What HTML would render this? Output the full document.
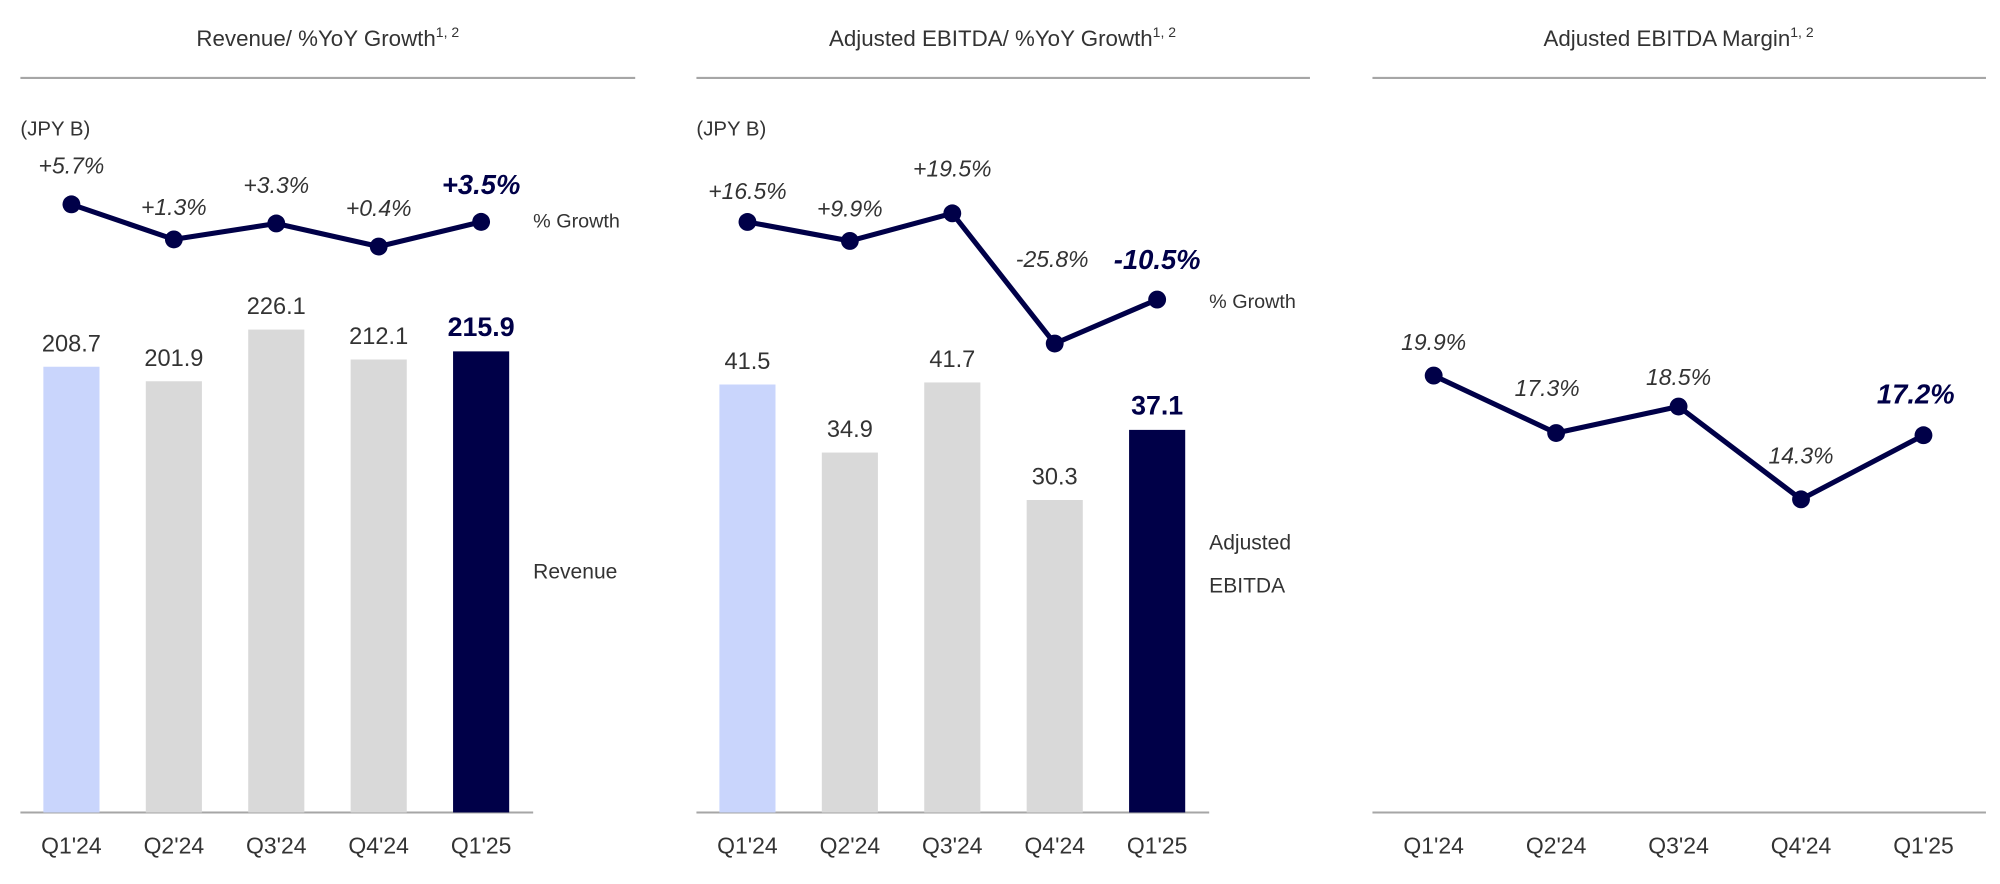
<!DOCTYPE html>
<html><head><meta charset="utf-8"><style>
html,body{margin:0;padding:0;background:#fff;}
svg{display:block;font-family:"Liberation Sans",Arial,sans-serif;}
</style></head><body>
<svg id="c" width="2000" height="884" viewBox="0 0 1568 692" preserveAspectRatio="none">
<g id="static" fill="#333">
<text x="257" y="36" font-size="17.5" text-anchor="middle">Revenue/ %YoY Growth<tspan font-size="11" dy="-7">1, 2</tspan></text>
<text x="786" y="36" font-size="17.5" text-anchor="middle">Adjusted EBITDA/ %YoY Growth<tspan font-size="11" dy="-7">1, 2</tspan></text>
<text x="1316" y="36" font-size="17.5" text-anchor="middle">Adjusted EBITDA Margin<tspan font-size="11" dy="-7">1, 2</tspan></text>
<line x1="16" x2="498" y1="61" y2="61" stroke="#a6a6a6" stroke-width="1.6"/>
<line x1="546" x2="1027" y1="61" y2="61" stroke="#a6a6a6" stroke-width="1.6"/>
<line x1="1076" x2="1557" y1="61" y2="61" stroke="#a6a6a6" stroke-width="1.6"/>
<text x="16" y="106" font-size="16">(JPY B)</text>
<text x="546" y="106" font-size="16">(JPY B)</text>
<text x="418" y="178" font-size="15.5">% Growth</text>
<text x="948" y="241" font-size="15.5">% Growth</text>
<text x="418" y="453" font-size="16.5">Revenue</text>
<text x="948" y="430" font-size="16.5">Adjusted</text>
<text x="948" y="464" font-size="16.5">EBITDA</text>
</g>
</svg>
<script>
const quarters=["Q1'24","Q2'24","Q3'24","Q4'24","Q1'25"];
const revenue=[208.7,201.9,226.1,212.1,215.9];
const revenueGrowth=[5.7,1.3,3.3,0.4,3.5];
const revenueGrowthLabels=["+5.7%","+1.3%","+3.3%","+0.4%","+3.5%"];
const ebitda=[41.5,34.9,41.7,30.3,37.1];
const ebitdaGrowth=[16.5,9.9,19.5,-25.8,-10.5];
const ebitdaGrowthLabels=["+16.5%","+9.9%","+19.5%","-25.8%","-10.5%"];
const margin=[19.9,17.3,18.5,14.3,17.2];
const marginLabels=["19.9%","17.3%","18.5%","14.3%","17.2%"];

const NS="http://www.w3.org/2000/svg";
const svg=document.getElementById('c');
const NAVY="#000048";
function mk(tag,attrs,parent){const e=document.createElementNS(NS,tag);for(const k in attrs)e.setAttribute(k,attrs[k]);(parent||svg).appendChild(e);return e;}
function bx(x0,i){return x0+i*80.3;}
const base=636;
function drawBars(prefix,x0,vals,pxPer){
  vals.forEach((v,i)=>{
    const h=v*pxPer, x=bx(x0,i);
    const last=i===vals.length-1;
    const r=mk('rect',{x:x-22,y:base-h,width:44,height:h,fill:i===0?'#c9d5fc':last?NAVY:'#d9d9d9'});
    
    
    const t=mk('text',{x:x,y:base-h-12,'text-anchor':'middle','font-size':last?21:18.5,'font-weight':last?'bold':'normal',fill:last?NAVY:'#333'});
    t.textContent=v.toFixed(1);
    
    
  });
}
function drawLine(prefix,xs,vals,labels,yFn,offs,dxs){
  const pts=vals.map((v,i)=>[xs[i],yFn(v)]);
  const p=mk('polyline',{points:pts.map(q=>q.join(',')).join(' '),fill:'none',stroke:NAVY,'stroke-width':4,'stroke-linejoin':'round'});
  
  
  pts.forEach((q,i)=>{
    const c=mk('circle',{cx:q[0],cy:q[1],r:7,fill:NAVY});
    
    
    const last=i===pts.length-1;
    const t=mk('text',{x:q[0]+(dxs?dxs[i]:0),y:q[1]-offs[i],'text-anchor':'middle','font-size':last?21.5:18,'font-style':'italic','font-weight':last?'bold':'normal',fill:last?NAVY:'#333'});
    t.textContent=labels[i];
    
    
  });
}
[[16,418],[546,948],[1076,1557]].forEach((a,k)=>{
  const l=mk('line',{x1:a[0],x2:a[1],y1:base,y2:base,stroke:'#a6a6a6','stroke-width':1.6});
  
  
});
const xs1=quarters.map((q,i)=>bx(56,i)), xs2=quarters.map((q,i)=>bx(586,i)), xs3=quarters.map((q,i)=>1124+i*96);
[xs1,xs2,xs3].forEach((xs,k)=>{
  quarters.forEach((q,i)=>{
    const t=mk('text',{x:xs[i],y:668,'text-anchor':'middle','font-size':18,fill:'#333'});
    t.textContent=q;
    
    
  });
});
drawBars('revenue',56,revenue,378/226.1);
drawBars('ebitda',586,ebitda,335/41.5);
drawLine('revenue-growth',xs1,revenueGrowth,revenueGrowthLabels,v=>193-(v-0.4)*6.23,[24,19,24,24,22]);
drawLine('ebitda-growth',xs2,ebitdaGrowth,ebitdaGrowthLabels,v=>167+(19.5-v)*2.25,[18,19,29,60,24],[0,0,0,-2,0]);
drawLine('margin',xs3,margin,marginLabels,v=>294+(19.9-v)*17.3,[20,29,17,28,25],[0,-7,0,0,-6]);
</script>
</body></html>
